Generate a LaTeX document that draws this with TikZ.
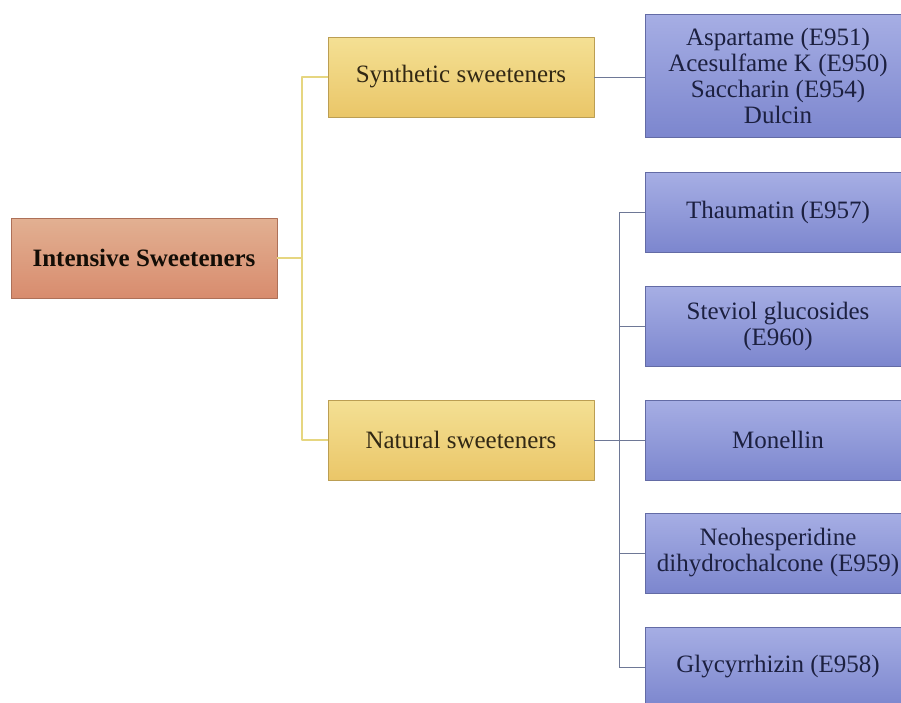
\documentclass[tikz,border=0pt]{standalone}
\usepackage{fontspec}
\setmainfont{Liberation Serif}
\usetikzlibrary{positioning}
\definecolor{rootTop}{RGB}{226,176,146}
\definecolor{rootBot}{RGB}{216,140,110}
\definecolor{yelTop}{RGB}{244,224,148}
\definecolor{yelBot}{RGB}{234,198,104}
\definecolor{bluTop}{RGB}{166,174,228}
\definecolor{bluBot}{RGB}{124,134,206}
\definecolor{yelLine}{RGB}{230,214,128}
\definecolor{bluLine}{RGB}{110,120,150}
\definecolor{navyText}{RGB}{28,32,64}
\definecolor{brownText}{RGB}{50,40,20}
\begin{document}
\begin{tikzpicture}[x=1pt,y=-1pt, line join=round,
	font=\fontsize{25}{26}\selectfont,
	box/.style={minimum width=266pt, minimum height=80pt, inner sep=2pt, align=center, draw=#1!80!black, line width=0.6pt},
	rootbox/.style={box=rootBot, top color=rootTop, bottom color=rootBot, text=black!90!brown, font=\fontsize{25}{26}\selectfont\bfseries},
	kindbox/.style={box=yelBot, top color=yelTop, bottom color=yelBot, text=brownText},
	itembox/.style={box=bluBot, top color=bluTop, bottom color=bluBot, text=navyText},
	yline/.style={draw=yelLine, line width=1.4pt},
	bline/.style={draw=bluLine, line width=0.9pt}]
	\useasboundingbox (0,0) rectangle (901,702);
	\clip (0,0) rectangle (901,702);
	\fill[white] (0,0) rectangle (901,702);
	% Nút
	\node[rootbox] (root) at (144,258) {Intensive Sweeteners};
	\node[kindbox] (syn) at (461,77) {Synthetic sweeteners};
	\node[kindbox] (nat) at (461,440) {Natural sweeteners};
	\node[itembox, minimum height=123pt] (syn1) at (778,75.5) {Aspartame (E951)\\Acesulfame K (E950)\\Saccharin (E954)\\Dulcin};
	\node[itembox] (thau) at (778,212.5) {Thaumatin (E957)};
	\node[itembox] (stev) at (778,326.5) {Steviol glucosides\\(E960)};
	\node[itembox] (mon) at (778,440) {Monellin};
	\node[itembox] (neo) at (778,553) {Neohesperidine\\dihydrochalcone (E959)};
	\node[itembox] (gly) at (778,667) {Glycyrrhizin (E958)};
	% Đường nối
	\coordinate (jL) at (302,258);
	\coordinate (jR) at (619,440);
	\draw[yline] (root.east) -- (jL);
	\draw[yline] (syn.west) -| (jL) |- (nat.west);
	\draw[bline] (syn.east) -- (syn1.west |- syn.east);
	\draw[bline] (nat.east) -- (mon.west);
	\draw[bline] (jR |- thau.west) -- (jR |- gly.west);
	\foreach \n in {thau,stev,neo,gly}
		\draw[bline] (jR |- \n.west) -- (\n.west);
\end{tikzpicture}
\end{document}
